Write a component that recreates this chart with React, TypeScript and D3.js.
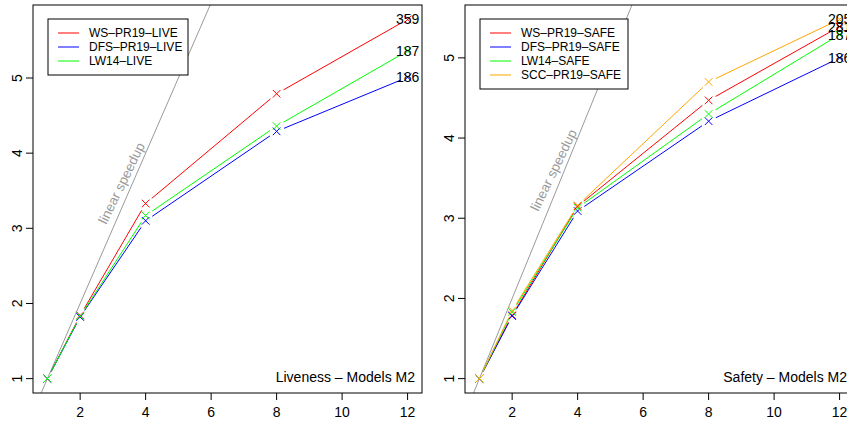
import { useEffect, useRef } from 'react';
import * as d3 from 'd3';

const threads = [1, 2, 4, 8, 12];
const xTicks = [2, 4, 6, 8, 10, 12];
const yTicks = [1, 2, 3, 4, 5];

// liveness
const liveNames = ["WS\u2013PR19\u2013LIVE", "DFS\u2013PR19\u2013LIVE", "LW14\u2013LIVE"];
const liveColors = ["#ff0000", "#0000ff", "#00ff00"];
const liveWS = [1, 1.84, 3.33, 4.79, 5.78];
const liveDFS = [1, 1.82, 3.10, 4.29, 5.01];
const liveLW = [1, 1.83, 3.17, 4.36, 5.36];
const liveCounts = ["359", "186", "187"];

// safety
const safeNames = ["WS\u2013PR19\u2013SAFE", "DFS\u2013PR19\u2013SAFE", "LW14\u2013SAFE", "SCC\u2013PR19\u2013SAFE"];
const safeColors = ["#ff0000", "#0000ff", "#00ff00", "#ffa500"];
const safeWS = [1, 1.79, 3.15, 4.47, 5.39];
const safeDFS = [1, 1.78, 3.09, 4.21, 5.00];
const safeLW = [1, 1.83, 3.13, 4.30, 5.29];
const safeSCC = [1, 1.85, 3.16, 4.70, 5.48];
const safeCounts = ["281", "186", "187", "205"];

const FONT = "'Liberation Sans', Arial, Helvetica, sans-serif";

function App() {
  const ref = useRef<SVGSVGElement>(null);

  useEffect(() => {
    document.body.style.margin = "0";
    const svg = d3.select(ref.current);
    svg.selectAll("*").remove();
    drawPanel(svg, {
      id: "live", left: 33, names: liveNames, colors: liveColors,
      series: [liveWS, liveDFS, liveLW], counts: liveCounts,
      title: "Liveness \u2013 Models M2", legendW: 140
    });
    drawPanel(svg, {
      id: "safe", left: 465, names: safeNames, colors: safeColors,
      series: [safeWS, safeDFS, safeLW, safeSCC], counts: safeCounts,
      title: "Safety \u2013 Models M2", legendW: 148
    });
    // eslint-disable-next-line
  }, []);

  function drawPanel(svg: any, p: any) {
    const top = 5, bottom = 393, width = 389;
    const x = d3.scaleLinear().domain([0.56, 12.44]).range([p.left, p.left + width]);
    const ymax = d3.max(p.series.flat() as number[]) as number;
    const r = ymax - 1;
    const y = d3.scaleLinear().domain([1 - 0.04 * r, ymax + 0.04 * r]).range([bottom, top]);

    const g = svg.append("g");

    g.append("clipPath").attr("id", "clip-" + p.id)
      .append("rect").attr("x", p.left).attr("y", top).attr("width", width).attr("height", bottom - top);

    // linear speedup
    g.append("line")
      .attr("clip-path", `url(#clip-${p.id})`)
      .attr("x1", x(0.5)).attr("y1", y(0.5)).attr("x2", x(7)).attr("y2", y(7))
      .attr("stroke", "#9a9a9a").attr("stroke-width", 1);
    g.append("text")
      .attr("transform", `translate(${x(3.27)},${y(3.6)}) rotate(-64)`)
      .attr("text-anchor", "middle").attr("dominant-baseline", "central")
      .attr("font-family", FONT).attr("font-size", 13.5).attr("fill", "#9a9a9a")
      .text("linear speedup");

    // series, type "b": segments with gaps around the points
    const gap = 8;
    p.series.forEach((vals: number[], si: number) => {
      const pts = threads.map((t, i) => [x(t), y(vals[i])]);
      for (let i = 0; i < pts.length - 1; i++) {
        const [x0, y0] = pts[i], [x1, y1] = pts[i + 1];
        const d = Math.hypot(x1 - x0, y1 - y0);
        if (d <= 2 * gap) continue;
        const ux = (x1 - x0) / d, uy = (y1 - y0) / d;
        g.append("line")
          .attr("x1", x0 + ux * gap).attr("y1", y0 + uy * gap)
          .attr("x2", x1 - ux * gap).attr("y2", y1 - uy * gap)
          .attr("stroke", p.colors[si]).attr("stroke-width", 1);
      }
      g.selectAll(null).data(pts).enter().append("path")
        .attr("transform", (d: number[]) => `translate(${d[0]},${d[1]})`)
        .attr("d", "M-3.8,-3.8L3.8,3.8M-3.8,3.8L3.8,-3.8")
        .attr("stroke", p.colors[si]).attr("stroke-width", 1).attr("fill", "none");
    });

    // counts at the last point
    p.series.forEach((vals: number[], si: number) => {
      g.append("text")
        .attr("x", x(12)).attr("y", y(vals[vals.length - 1]))
        .attr("text-anchor", "middle").attr("dominant-baseline", "central")
        .attr("font-family", FONT).attr("font-size", 14).attr("fill", "#000")
        .text(p.counts[si]);
    });

    // box
    g.append("rect").attr("x", p.left).attr("y", top).attr("width", width).attr("height", bottom - top)
      .attr("fill", "none").attr("stroke", "#000").attr("stroke-width", 1);

    // x axis
    xTicks.forEach(t => {
      g.append("line").attr("x1", x(t)).attr("x2", x(t)).attr("y1", bottom).attr("y2", bottom + 7)
        .attr("stroke", "#000");
      g.append("text").attr("x", x(t)).attr("y", 417)
        .attr("text-anchor", "middle").attr("font-family", FONT).attr("font-size", 14)
        .text(t);
    });
    // y axis
    yTicks.forEach(t => {
      g.append("line").attr("x1", p.left - 7).attr("x2", p.left).attr("y1", y(t)).attr("y2", y(t))
        .attr("stroke", "#000");
      g.append("text").attr("transform", `translate(${p.left - 11},${y(t)}) rotate(-90)`)
        .attr("text-anchor", "middle").attr("font-family", FONT).attr("font-size", 14)
        .text(t);
    });

    // title in the bottom right corner
    g.append("text").attr("x", p.left + width - 7).attr("y", 382)
      .attr("text-anchor", "end").attr("font-family", FONT).attr("font-size", 14)
      .text(p.title);

    // legend
    const lx = p.left + 15, ly = 19, rowH = 14;
    const lh = p.names.length * rowH + 14;
    g.append("rect").attr("x", lx).attr("y", ly).attr("width", p.legendW).attr("height", lh)
      .attr("fill", "#fff").attr("stroke", "#000").attr("stroke-width", 1);
    p.names.forEach((n: string, i: number) => {
      const yy = ly + 14 + i * rowH;
      g.append("line").attr("x1", lx + 10).attr("x2", lx + 31).attr("y1", yy).attr("y2", yy)
        .attr("stroke", p.colors[i]).attr("stroke-width", 1);
      g.append("text").attr("x", lx + 41).attr("y", yy).attr("dominant-baseline", "central")
        .attr("font-family", FONT).attr("font-size", 12).text(n);
    });
  }

  return (
    <svg ref={ref} width={847} height={422} style={{ display: "block", background: "#fff", overflow: "hidden" }}>
    </svg>
  );
}

export default App;
